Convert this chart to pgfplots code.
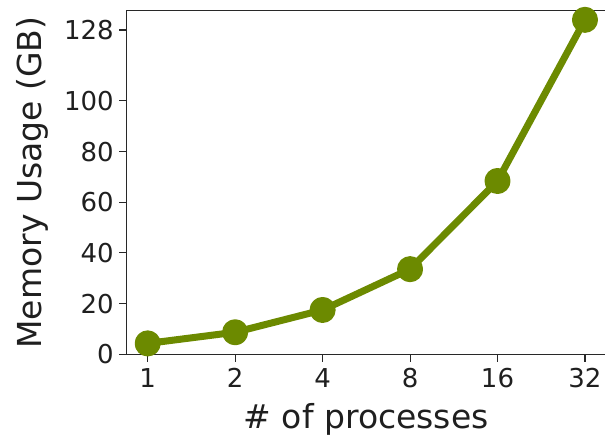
\documentclass[border=0pt]{standalone}
\usepackage{fontspec}
\setmainfont{DejaVu Sans}
\usepackage{pgfplots}
\pgfplotsset{compat=1.18}
\definecolor{olivegreen}{RGB}{108,138,0}
\definecolor{spine}{RGB}{40,40,40}
\begin{document}
\begin{tikzpicture}
\begin{axis}[
  at={(126.7pt,82.7pt)}, anchor=south west,
  scale only axis,
  width=479pt, height=343.6pt,
  xmin=-0.24, xmax=5.237,
  ymin=0, ymax=135.6,
  xtick={0,1,2,3,4,5},
  xticklabels={1,2,4,8,16,32},
  ytick={0,20,40,60,80,100,128},
  /pgf/number format/assume math mode=true,
  tick align=outside,
  major tick length=7.5pt,
  tick style={spine, line width=1.1pt},
  axis line style={spine, line width=1.1pt},
  xtick pos=bottom, ytick pos=left,
  ticklabel style={font=\fontsize{26}{30}\selectfont, text=black!88},
  yticklabel style={xshift=-2pt},
  xticklabel style={yshift=-3pt},
  xlabel={\# of processes},
  ylabel={Memory Usage (GB)},
  label style={font=\fontsize{33}{38}\selectfont, text=black!88},
  xlabel style={yshift=-9pt},
  ylabel style={yshift=9pt},
  clip=false,
]
\addplot[color=olivegreen, line width=7pt, line join=round, mark=*, mark size=9.5pt,
  mark options={fill=olivegreen, draw=none}]
  coordinates {(0,4.3) (1,8.7) (2,17.5) (3,33.6) (4,68.4) (5,132.0)};
\end{axis}
\pgfresetboundingbox
\path (0,0) rectangle (605pt,437pt);
\end{tikzpicture}
\end{document}
